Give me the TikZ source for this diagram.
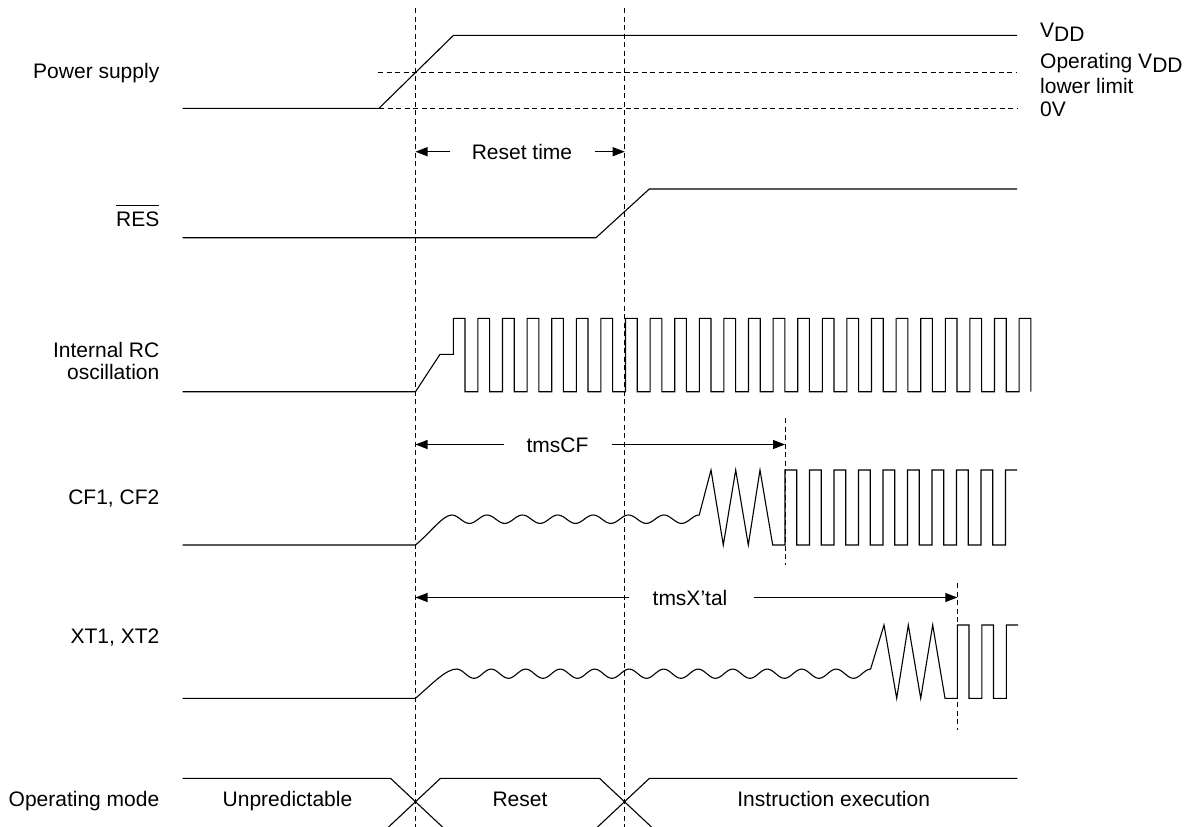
\documentclass[tikz,border=0pt]{standalone}
\usepackage{fontspec}
\setmainfont{Liberation Sans}
\usetikzlibrary{arrows.meta,positioning}
\newcommand{\barsig}[1]{\vbox{\hrule height 0.9pt\kern 5pt\hbox{#1}}}
\newcommand{\vdd}{V\raisebox{-4.5pt}{DD}}
\tikzset{sig label/.style={anchor=base east,inner sep=0pt},
         lvl label/.style={anchor=base west,inner sep=0pt},
         mode label/.style={anchor=base,inner sep=0pt},
         dim label/.style={inner sep=0pt,text height=15pt,text depth=0pt},
         wave/.style={line width=1.1pt,line join=miter},
         guide/.style={line width=0.9pt,dash pattern=on 5pt off 3.5pt},
         dim line/.style={line width=1.1pt,->},
}

\begin{document}
\begin{tikzpicture}[x=1pt,y=-1pt,
font=\fontsize{21}{24}\selectfont,
>={Triangle[length=12pt,width=9pt]}]
\useasboundingbox (0,0) rectangle (1195,827);
% \draw[help lines] (0,0) grid[step=50] (1195,827);
\coordinate (tA) at (415.5,0);
\coordinate (tB) at (624.7,0);
\coordinate (tC) at (785,0);
\coordinate (tD) at (957.3,0);

\node[sig label] (pwr) at (159.5,78.3) {Power supply};
\node[sig label] (res) at (159.5,226) {\barsig{RES}};
\node[sig label] (rc) at (159.5,357) {Internal RC};
\node[sig label] (rcb) at (159.5,379) {oscillation};
\node[sig label] (cf) at (159.5,504) {CF1, CF2};
\node[sig label] (xt) at (159.5,643) {XT1, XT2};
\node[sig label] (mode) at (159.5,806.7) {Operating mode};

\node[lvl label] (vdd) at (1040,37.5) {\vdd};
\node[lvl label] (vop) at (1040,68) {Operating \vdd};
\node[lvl label] (vlow) at (1040,93) {lower limit};
\node[lvl label] (vzero) at (1040,116.5) {0V};

% guides
\draw[guide] (tA |- 0,8) -- (tA |- 0,827);
\draw[guide] (tB |- 0,8) -- (tB |- 0,827);
\draw[guide] (tC |- 0,418) -- (tC |- 0,565);
\draw[guide] (tD |- 0,583) -- (tD |- 0,730);
\draw[guide] (378,72.7) -- (1017,72.7);
\draw[guide] (379,108.3) -- (1017,108.3);

% power and reset
\draw[wave] (182.5,108.3) -- (379,108.3) -- (453.5,35.3) -- (1017,35.3);
\draw[wave] (182.5,237.7) -- (596,237.7) -- (649.3,189) -- (1017,189);

\node[dim label] (rst) at (522,151.7) {Reset time};
\draw[dim line] ([xshift=-22pt]rst.west) -- (rst.west -| tA);
\draw[dim line] ([xshift=23pt]rst.east) -- (rst.east -| tB);

% internal RC
\draw[wave] (182.5,391.7) -- (415.5,391.7) -- (440,354.3) -- (453.3,354.3)
    -- (453.3,318.3) -- ++(11.7,0)
    foreach \k in {1,...,23}{ -- ++(0,73.4) -- ++(12.9,0) -- ++(0,-73.4) -- ++(11.7,0) }
    -- ++(0,73.4);

% CF
\node[dim label] (tcf) at (557.5,444.5) {tmsCF};
\draw[dim line] ([xshift=-22pt]tcf.west) -- (tcf.west -| tA);
\draw[dim line] ([xshift=23pt]tcf.east) -- (tcf.east -| tC);
\draw[wave] (182.5,545) -- (415.5,545) .. controls (430,533) and (443,515) .. (451.7,515)
    -- plot[domain=0:7,samples=141,smooth] ({451.7+35.37*\x},{519.2-4.2*cos(360*\x)})
    -- (711,470) -- (723.3,545) -- (735.7,470) -- (748.3,545) -- (760,470) -- (772.7,545)
    -- (785,545) -- (785,470) -- ++(11.7,0)
    foreach \k in {1,...,9}{ -- ++(0,75) -- ++(12.8,0) -- ++(0,-75) -- ++(11.7,0) };

% XT
\node[dim label] (txt) at (690,597.5) {tmsX’tal};
\draw[dim line] ([xshift=-23pt]txt.west) -- (txt.west -| tA);
\draw[dim line] ([xshift=26pt]txt.east) -- (txt.east -| tD);
\draw[wave] (182.5,698.3) -- (415.5,698.3) .. controls (432,684) and (446,669) .. (456.7,669)
    -- plot[domain=0:12,samples=241,smooth] ({456.7+34.5*\x},{673.7-4.6*cos(360*\x)})
    -- (884,625) -- (896.7,698.3) -- (908.3,625) -- (920.7,698.3) -- (932.7,625) -- (945,698.3)
    -- (957.3,698.3) -- (957.3,625) -- ++(11.7,0)
    foreach \k in {1,2}{ -- ++(0,73.3) -- ++(12.8,0) -- ++(0,-73.3) -- ++(11.7,0) };

% operating mode
\draw[wave] (182.5,778.3) -- (390.5,778.3) -- (443,827.5);
\draw[wave] (388,827.5) -- (440.5,778.3) -- (599.5,778.3) -- (652,827.5);
\draw[wave] (597,827.5) -- (649.5,778.3) -- (1017.3,778.3);
\node[mode label] (unp) at (287.5,806.7) {Unpredictable};
\node[mode label] (rstm) at (520,806.7) {Reset};
\node[mode label] (exe) at (833.7,806.7) {Instruction execution};
\end{tikzpicture}
\end{document}
